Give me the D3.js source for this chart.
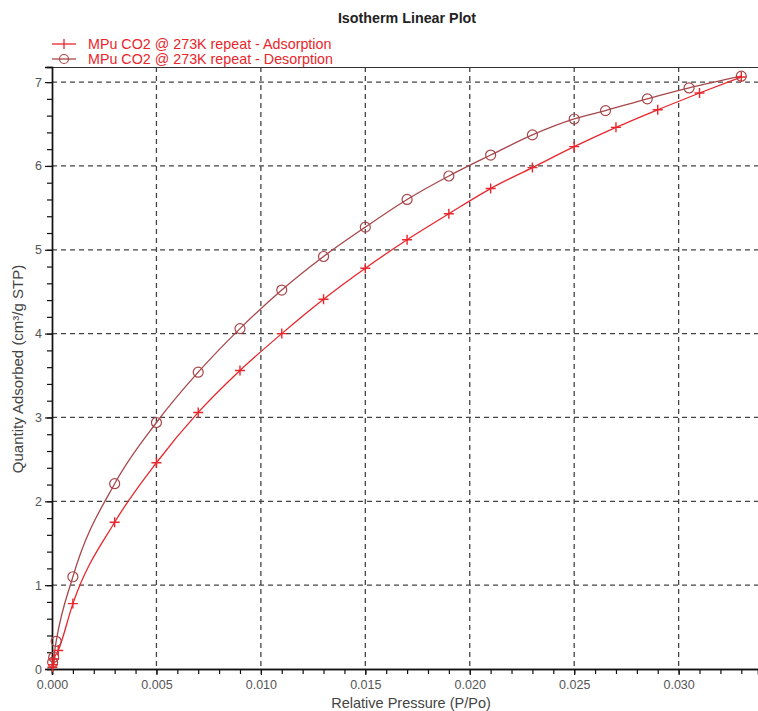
<!DOCTYPE html>
<html>
<head>
<meta charset="utf-8">
<script src="https://cdn.jsdelivr.net/npm/d3@7"></script>
<style>
  body { margin: 0; background: #fff; }
  svg { display: block; font-family: "Liberation Sans", Arial, sans-serif; }
</style>
</head>
<body>
<svg id="svg" width="758" height="711"></svg>
<script>
"use strict";

// adsorption branch (red, + markers)
const adsP = [0.00002, 0.00005, 0.0001, 0.0003, 0.001, 0.003, 0.005, 0.007, 0.009, 0.011, 0.013,
              0.015, 0.017, 0.019, 0.021, 0.023, 0.025, 0.027, 0.029, 0.031, 0.033];
const adsQ = [0.02, 0.05, 0.12, 0.22, 0.78, 1.75, 2.46, 3.06, 3.56, 4.00, 4.41,
              4.78, 5.12, 5.43, 5.73, 5.98, 6.23, 6.46, 6.67, 6.87, 7.06];

// desorption branch (brown, o markers)
const desP = [0.033, 0.0305, 0.0285, 0.0265, 0.025, 0.023, 0.021, 0.019, 0.017, 0.015, 0.013,
              0.011, 0.009, 0.007, 0.005, 0.003, 0.001, 0.0002, 0.00008, 0.00003];
const desQ = [7.07, 6.93, 6.80, 6.66, 6.56, 6.37, 6.13, 5.88, 5.60, 5.27, 4.92,
              4.52, 4.06, 3.54, 2.94, 2.21, 1.10, 0.33, 0.14, 0.08];

const xTicks = [0, 0.005, 0.010, 0.015, 0.020, 0.025, 0.030];
const yTicks = [0, 1, 2, 3, 4, 5, 6, 7];
const legendLabels = ["MPu CO2 @ 273K repeat - Adsorption", "MPu CO2 @ 273K repeat - Desorption"];

const redCol = "#e8262c";
const brownCol = "#a8474a";

var svg = d3.select("svg");
var mLeft = 52, mRight = 758, mTop = 67, mBottom = 669;

var x = d3.scaleLinear().domain([0, 0.0338]).range([mLeft, mRight]);
var y = d3.scaleLinear().domain([0, 7.18]).range([mBottom, mTop]);

// title
svg.append("text")
    .attr("x", 407).attr("y", 23)
    .attr("text-anchor", "middle")
    .attr("font-weight", "bold")
    .attr("font-size", 14.3)
    .attr("fill", "#222")
    .text("Isotherm Linear Plot");

// grid
var grid = svg.append("g")
    .attr("stroke", "#444")
    .attr("stroke-width", 1.3)
    .attr("stroke-dasharray", "5,4");
grid.selectAll(".gx")
    .data(xTicks.slice(1))
    .enter().append("line")
        .attr("x1", d => x(d)).attr("x2", d => x(d))
        .attr("y1", mTop).attr("y2", mBottom);
grid.selectAll(".gy")
    .data(yTicks.slice(1))
    .enter().append("line")
        .attr("x1", mLeft).attr("x2", mRight)
        .attr("y1", d => y(d)).attr("y2", d => y(d));

// top frame
svg.append("line")
    .attr("x1", mLeft).attr("x2", mRight)
    .attr("y1", mTop + 0.5).attr("y2", mTop + 0.5)
    .attr("stroke", "#333").attr("stroke-width", 1.2);

// axes
var xMinor = d3.range(0, 0.0336, 0.001);
var yMinor = d3.range(0, 7.19, 0.2);

var xAxisMinor = svg.append("g")
    .attr("transform", "translate(0," + mBottom + ")")
    .call(d3.axisBottom(x).tickValues(xMinor).tickSize(5).tickFormat(""));
var xAxis = svg.append("g")
    .attr("transform", "translate(0," + mBottom + ")")
    .call(d3.axisBottom(x).tickValues(xTicks).tickSize(6).tickPadding(5).tickFormat(d3.format(".3f")));
var yAxisMinor = svg.append("g")
    .attr("transform", "translate(" + mLeft + ",0)")
    .call(d3.axisLeft(y).tickValues(yMinor).tickSize(5).tickFormat(""));
var yAxis = svg.append("g")
    .attr("transform", "translate(" + mLeft + ",0)")
    .call(d3.axisLeft(y).tickValues(yTicks).tickSize(7).tickPadding(3).tickFormat(d3.format("d")));

[xAxisMinor, xAxis, yAxisMinor, yAxis].forEach(a => {
    a.select(".domain").attr("stroke", "#111").attr("stroke-width", 1.4);
    a.selectAll(".tick line").attr("stroke", "#111").attr("stroke-width", 1.2);
    a.selectAll("text")
        .attr("font-family", "Liberation Sans, Arial, sans-serif")
        .attr("font-size", 12.5)
        .attr("fill", "#555");
});

svg.append("text")
    .attr("x", 411).attr("y", 708)
    .attr("text-anchor", "middle")
    .attr("font-size", 14.5)
    .attr("fill", "#444")
    .text("Relative Pressure (P/Po)");

svg.append("text")
    .attr("transform", "translate(23,369) rotate(-90)")
    .attr("text-anchor", "middle")
    .attr("font-size", 15)
    .attr("fill", "#444")
    .text("Quantity Adsorbed (cm³/g STP)");

// series
var ads = adsP.map((p, i) => ({ p: p, q: adsQ[i] }));
var des = desP.map((p, i) => ({ p: p, q: desQ[i] }));

var line = d3.line()
    .x(d => x(d.p))
    .y(d => y(d.q))
    .curve(d3.curveMonotoneX);

var plot = svg.append("g");

plot.append("path")
    .datum(des.slice().sort((a, b) => a.p - b.p))
    .attr("d", line)
    .attr("fill", "none")
    .attr("stroke", brownCol)
    .attr("stroke-width", 1.3);

plot.append("path")
    .datum(ads)
    .attr("d", line)
    .attr("fill", "none")
    .attr("stroke", redCol)
    .attr("stroke-width", 1.3);

plot.selectAll(".circ")
    .data(des)
    .enter().append("circle")
        .attr("cx", d => x(d.p))
        .attr("cy", d => y(d.q))
        .attr("r", 5)
        .attr("fill", "none")
        .attr("stroke", brownCol)
        .attr("stroke-width", 1.2);

plot.selectAll(".plus")
    .data(ads)
    .enter().append("path")
        .attr("d", d => "M" + (x(d.p) - 5) + "," + y(d.q) + "h10M" + x(d.p) + "," + (y(d.q) - 5) + "v10")
        .attr("stroke", redCol)
        .attr("stroke-width", 1.4);

// legend
var legend = svg.append("g");
legendLabels.forEach((lab, i) => {
    var ly = 44 + i * 15;
    var col = i == 0 ? redCol : brownCol;
    legend.append("line")
        .attr("x1", 52).attr("x2", 76)
        .attr("y1", ly).attr("y2", ly)
        .attr("stroke", col).attr("stroke-width", 1.3);
    if (i == 0) {
        legend.append("line")
            .attr("x1", 64).attr("x2", 64)
            .attr("y1", ly - 5).attr("y2", ly + 5)
            .attr("stroke", col).attr("stroke-width", 1.3);
    } else {
        legend.append("circle")
            .attr("cx", 64).attr("cy", ly).attr("r", 4.5)
            .attr("fill", "none").attr("stroke", col).attr("stroke-width", 1.2);
    }
    legend.append("text")
        .attr("x", 88).attr("y", ly + 5)
        .attr("font-size", 14.3)
        .attr("fill", redCol)
        .text(lab);
});
</script>
</body>
</html>
